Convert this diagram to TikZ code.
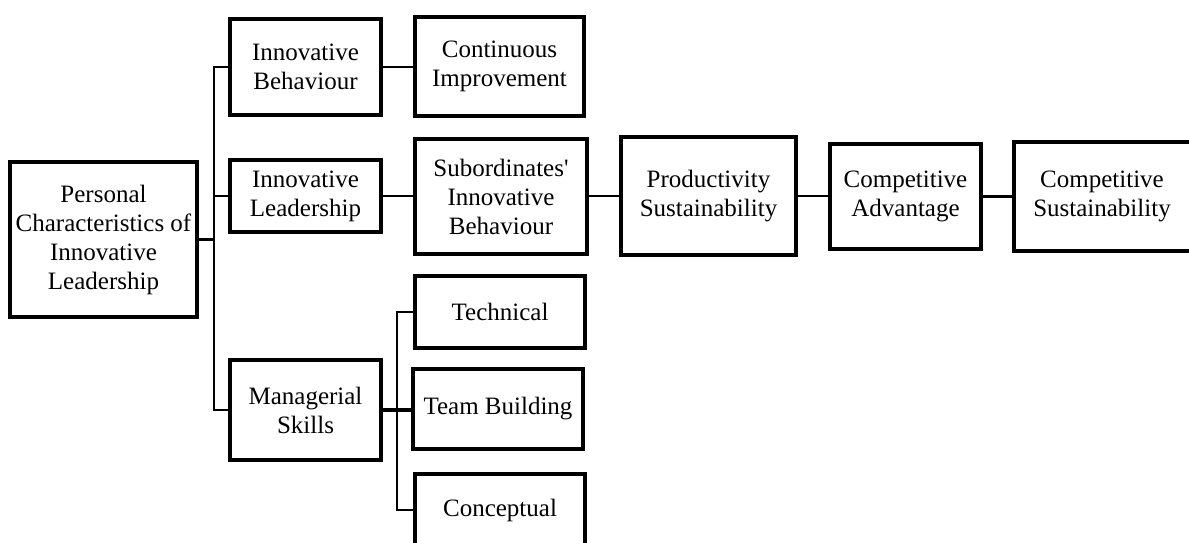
\documentclass[tikz,border=0pt]{standalone}
\usepackage{fontspec}
\setmainfont{Liberation Serif}[Ligatures=TeXOff]
\begin{document}
\begin{tikzpicture}[x=1pt,y=-1pt,
  box/.style={draw=black,line width=3.6pt,rectangle,align=center,inner sep=0pt,
    font=\fontsize{25}{29}\selectfont},
  link/.style={draw=black,line width=2.2pt},
  boldlink/.style={draw=black,line width=3.4pt}]
\clip (0,0) rectangle (1189,543);
\fill[white] (0,0) rectangle (1189,543);
\node[box,minimum width=187pt,minimum height=155pt] (P) at (103.5,239.5) {Personal\\Characteristics of\\Innovative\\Leadership};
\node[box,minimum width=151pt,minimum height=96pt] (IB) at (305.5,67) {Innovative\\Behaviour};
\node[box,minimum width=151pt,minimum height=72pt] (IL) at (305.5,196) {Innovative\\Leadership};
\node[box,minimum width=151pt,minimum height=100pt] (MS) at (305.5,410) {Managerial\\Skills};
\node[box,minimum width=169pt,minimum height=99pt] (CI) at (499.5,66.5) {Continuous\\Improvement};
\node[box,minimum width=172pt,minimum height=115pt] (SIB) at (501,196.5) {Subordinates'\\Innovative\\Behaviour};
\node[box,minimum width=175pt,minimum height=118pt] (PS) at (708.5,196) {Productivity\\Sustainability};
\node[box,minimum width=151pt,minimum height=105pt] (CA) at (905.5,196.5) {Competitive\\Advantage};
\node[box,minimum width=186pt,minimum height=109pt] (CS) at (1107,196.5) {\hspace*{-10pt}Competitive\\\hspace*{-10pt}Sustainability};
\node[box,minimum width=170pt,minimum height=72pt] (TE) at (500,312) {Technical};
\node[box,minimum width=170pt,minimum height=80pt] (TB) at (498,409) {Team Building};
\node[box,minimum width=170pt,minimum height=72pt] (CO) at (500,510) {Conceptual};
\coordinate (trunk) at (214,239.5);
\coordinate (sub) at (397,410);
% main tree
\draw[boldlink] (P.east) -- (P.east -| trunk);
\draw[link] (IB.west) -- (IB.west -| trunk) -- (MS.west -| trunk) -- (MS.west);
\draw[link] (IL.west) -- (IL.west -| trunk);
% right chain
\draw[link] (IB.east) -- (IB.east -| CI.west);
\draw[link] (IL.east) -- (IL.east -| SIB.west);
\draw[link] (PS.west -| SIB.east) -- (PS.west);
\draw[link] (PS.east) -- (PS.east -| CA.west);
\draw[link] (CA.east) -- (CA.east -| CS.west);
% managerial sub tree
\draw[boldlink] (MS.east) -- (MS.east -| TB.west);
\draw[link] (TE.west) -- (TE.west -| sub) -- (CO.west -| sub) -- (CO.west);
\end{tikzpicture}
\end{document}
